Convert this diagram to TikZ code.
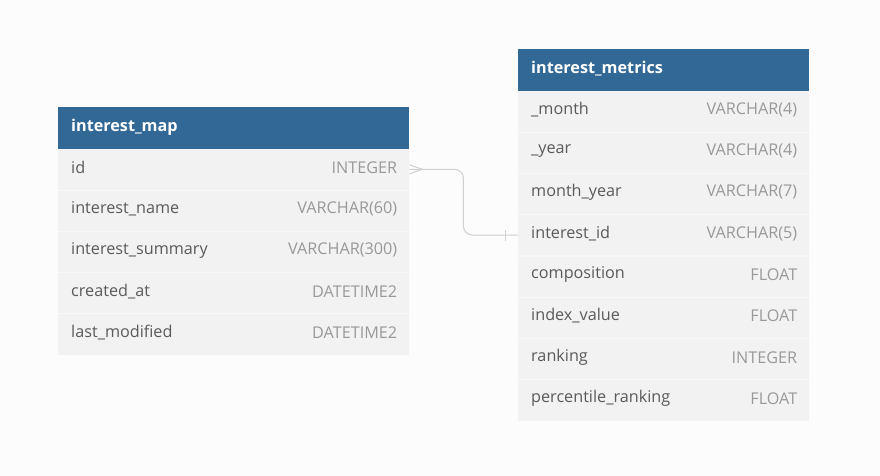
\documentclass[tikz,border=0pt]{standalone}
\usepackage{fontspec}
\setmainfont{Open Sans}
\usetikzlibrary{calc}
\definecolor{bgc}{HTML}{FCFCFC}
\definecolor{hdrblue}{HTML}{316896}
\definecolor{rowgray}{HTML}{F2F2F2}
\definecolor{sepgray}{HTML}{F8F8F8}
\definecolor{namegray}{HTML}{5A5A5A}
\definecolor{typegray}{HTML}{999999}
\definecolor{conngray}{HTML}{D0D0D0}
\newcommand{\fsz}{\fontsize{16.2}{19}\selectfont}
\tikzset{
  hdrbox/.style={fill=hdrblue, inner sep=0pt, anchor=north west, minimum height=41.5pt},
  hdrtext/.style={anchor=west, text=white, font=\fsz\bfseries, inner sep=0pt},
  rowbox/.style={fill=rowgray, inner sep=0pt, anchor=north west},
  fname/.style={anchor=west, text=namegray, font=\fsz, inner sep=0pt},
  ftype/.style={anchor=east, text=typegray, font=\fsz, inner sep=0pt},
  sepline/.style={draw=sepgray, line width=1.2pt},
  conn/.style={draw=conngray, line width=1pt, rounded corners=9pt},
  endmark/.style={draw=conngray, line width=1pt},
}
\begin{document}
\begin{tikzpicture}[x=1pt,y=-1pt]
\fill[bgc] (0,0) rectangle (880,476);
\useasboundingbox (0,0) rectangle (880,476);
% ---------------- interest_map ----------------
\node[hdrbox, minimum width=351pt] (maphdr) at (58,107) {};
\node[hdrtext] (maptitle) at ($(maphdr.west)+(13,-1)$) {interest\_map};
\foreach \k/\nm/\f/\t in {0/id/id/INTEGER,
                          1/iname/interest\_name/VARCHAR(60),
                          2/isum/interest\_summary/VARCHAR(300),
                          3/created/created\_at/DATETIME2,
                          4/lastmod/last\_modified/DATETIME2}{
  \node[rowbox, minimum width=351pt, minimum height=41.2pt] (map-\nm) at (58,{148.5+41.2*\k}) {};
  \node[fname] (map-\nm-f) at ($(map-\nm.west)+(13,-1.5)$) {\f};
  \node[ftype] (map-\nm-t) at ($(map-\nm.east)+(-12,-1.5)$) {\t};
}
\foreach \a/\b in {id/iname,iname/isum,isum/created,created/lastmod}{
  \draw[sepline] (map-\a.south west) -- (map-\a.south east);
}
% ---------------- interest_metrics ----------------
\node[hdrbox, minimum width=291pt] (methdr) at (518,49) {};
\node[hdrtext] (mettitle) at ($(methdr.west)+(13,-1)$) {interest\_metrics};
\foreach \k/\nm/\f/\t in {0/month/\_month/VARCHAR(4),
                          1/year/\_year/VARCHAR(4),
                          2/my/month\_year/VARCHAR(7),
                          3/iid/interest\_id/VARCHAR(5),
                          4/comp/composition/FLOAT,
                          5/idx/index\_value/FLOAT,
                          6/rank/ranking/INTEGER,
                          7/prank/percentile\_ranking/FLOAT}{
  \node[rowbox, minimum width=291pt, minimum height=41.25pt] (met-\nm) at (518,{90.5+41.25*\k}) {};
  \node[fname] (met-\nm-f) at ($(met-\nm.west)+(13,-1.5)$) {\f};
  \node[ftype] (met-\nm-t) at ($(met-\nm.east)+(-12,-1.5)$) {\t};
}
\foreach \a in {month,year,my,iid,comp,idx,rank}{
  \draw[sepline] (met-\a.south west) -- (met-\a.south east);
}
% ---------------- connector ----------------
\draw[conn] (map-id.east) -- ++(54,0) |- (met-iid.west);
% crow's foot (many) at interest_map.id
\draw[endmark] ($(map-id.east)+(0,-4.5)$) -- ($(map-id.east)+(13,0)$) -- ($(map-id.east)+(0,4.5)$);
% bar (one) at interest_metrics.interest_id
\draw[endmark] ($(met-iid.west)+(-13,-5.5)$) -- ($(met-iid.west)+(-13,5.5)$);
\end{tikzpicture}
\end{document}
